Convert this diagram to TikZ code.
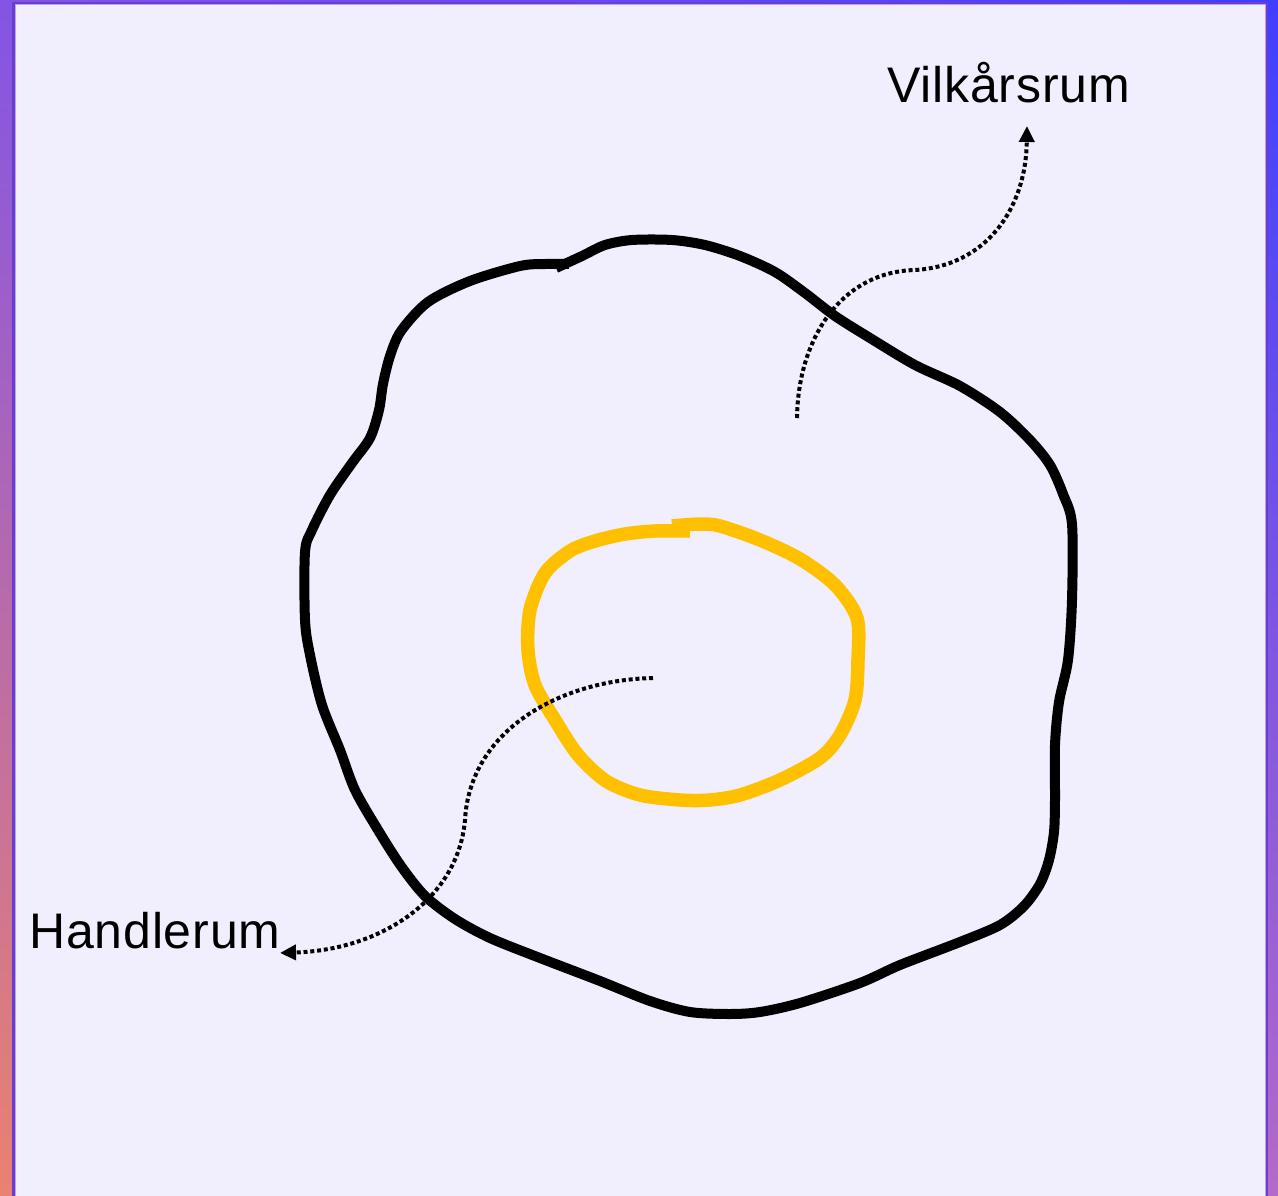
\documentclass[tikz,border=0pt]{standalone}
\usepackage{fontspec}
\setmainfont{Liberation Sans}[LetterSpace=1.7]
\usetikzlibrary{arrows.meta,shadings}
\definecolor{panel}{HTML}{F1EFFD}
\definecolor{framedark}{HTML}{6A3CCF}
\definecolor{framelight}{HTML}{B9A2F2}
\definecolor{gTL}{HTML}{8354E6}
\definecolor{gTR}{HTML}{3F3FFF}
\definecolor{gBL}{HTML}{EA8270}
\definecolor{gBR}{HTML}{B46AC8}
\definecolor{ring}{HTML}{FFC000}
\tikzset{
  blob/.style={line width=10pt, draw=black, line join=round},
  core/.style={line width=13.5pt, draw=ring, line join=round},
  pointer/.style={line width=4pt, dash pattern=on 4pt off 2.8pt, -{Triangle[length=16pt,width=15pt,sep=3pt]}},
  label/.style={font=\fontsize{50}{60}\selectfont, inner sep=0pt}
}
\begin{document}
\begin{tikzpicture}[x=1pt,y=-1pt]
\useasboundingbox (0,0) rectangle (1278,1196);
\shade[upper left=gTL, upper right=gTR, lower left=gBL, lower right=gBR] (0,0) rectangle (1278,1196);
\fill[panel] (13,3) rectangle (1267,1210);
\draw[framedark, line width=2.5pt] (13.25,3.25) rectangle (1266.75,1215);
\draw[framelight, line width=1pt] (15,5) rectangle (1265,1215);

% black outer region
\draw[blob] plot[smooth, tension=0.5] coordinates {
 (556,268) (582,256) (605,245) (632,240) (672,240) (705,245) (740,256) (775,272) (805,293) (835,316)
 (870,338) (915,365) (960,386) (1000,412) (1030,440) (1050,465) (1063,494) (1072,524) (1072,600)
 (1068,660) (1059,702) (1055,745) (1055,800) (1054,832) (1049,860) (1040,884) (1024,906) (1000,925)
 (960,942) (900,965) (860,983) (800,1003) (760,1012) (730,1014) (690,1012) (650,1001) (600,981)
 (540,958) (490,938) (455,919) (425,896) (401,866) (378,830) (355,790) (340,750) (322,705) (310,655)
 (305,620) (305,552) (312,530) (330,495) (352,463) (370,438) (379,410) (383,384) (390,356) (401,331)
 (428,302) (470,281) (520,266) (545,264) (569,264)};

% yellow inner region
\draw[core] plot[smooth, tension=0.5] coordinates {
 (672,526) (700,524) (720,526) (760,540) (800,559) (835,585) (857,618) (858,660) (855,700) (840,735)
 (820,758) (780,780) (740,795) (710,800) (680,800) (640,795) (606,781) (578,755) (555,720) (535,685)
 (528,650) (530,610) (545,573) (570,551) (595,541) (625,534) (655,531) (690,531)};

\node[label, anchor=base west] (vl) at (887,103) {Vilkårsrum};
\node[label, anchor=base west] (hl) at (29,948) {Handlerum};

\coordinate (vs) at (797,418);
\coordinate (vt) at (1027,123);
\coordinate (hs) at (653,678);
\coordinate (ht) at (277,953);

\draw[pointer] (vs) .. controls (798,340) and (840,272) .. (915,270)
  .. controls (985,266) and (1026,210) .. (vt);
\draw[pointer] (hs) .. controls (560,680) and (470,730) .. (465,820)
  .. controls (458,900) and (380,950) .. (ht);
\end{tikzpicture}
\end{document}
